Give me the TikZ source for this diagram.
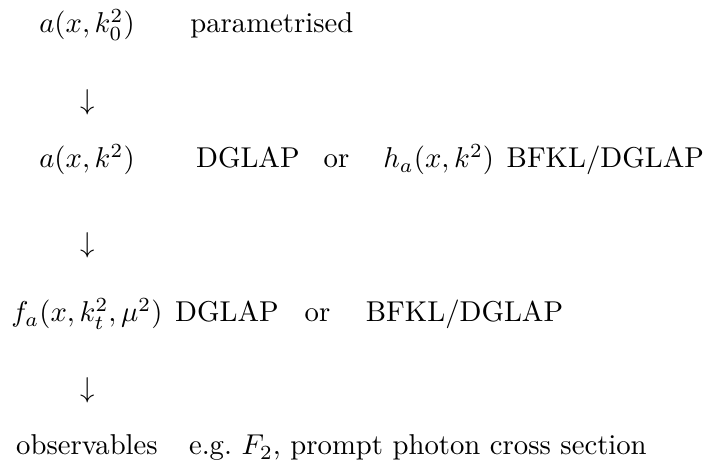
\documentclass[tikz,border=0pt]{standalone}
\usepackage{amsmath,amssymb}
\usetikzlibrary{positioning}

\begin{document}
\begin{tikzpicture}[every node/.style={inner sep=0pt, anchor=base}]
\useasboundingbox (0,0) rectangle (8.682,-5.755);
% left column: the functions, centred under one another
\node (start) at (1.065,-0.404) {$a(x,k_0^2)$};
\node (down1) at (1.078,-1.347) {$\downarrow$};
\node (evol) at (1.065,-2.057) {$a(x,k^2)$};
\node (down2) at (1.078,-3.098) {$\downarrow$};
\node (unint) at (1.065,-3.943) {$f_a(x,k_t^2,\mu^2)$};
\node (down3) at (1.078,-4.873) {$\downarrow$};
\node (obs) at (1.065,-5.571) {observables};
% right of each row
\node[base right=19pt of start] (param) {parametrised};
\node[base right=21pt of evol] (dglapA) {DGLAP};
\node[base right=8pt of dglapA] (orA) {or};
\node[base right=11.5pt of orA] (hfun) {$h_a(x,k^2)$};
\node[base right=4pt of hfun] (bfklA) {BFKL/DGLAP};
\node[base right=4pt of unint] (dglapB) {DGLAP};
\node[base right=8.7pt of dglapB] (orB) {or};
\node[base right=12pt of orB] (bfklB) {BFKL/DGLAP};
\node[base right=10.5pt of obs] (eg) {e.g.\ $F_2$,\ prompt photon cross section};
\end{tikzpicture}
\end{document}
